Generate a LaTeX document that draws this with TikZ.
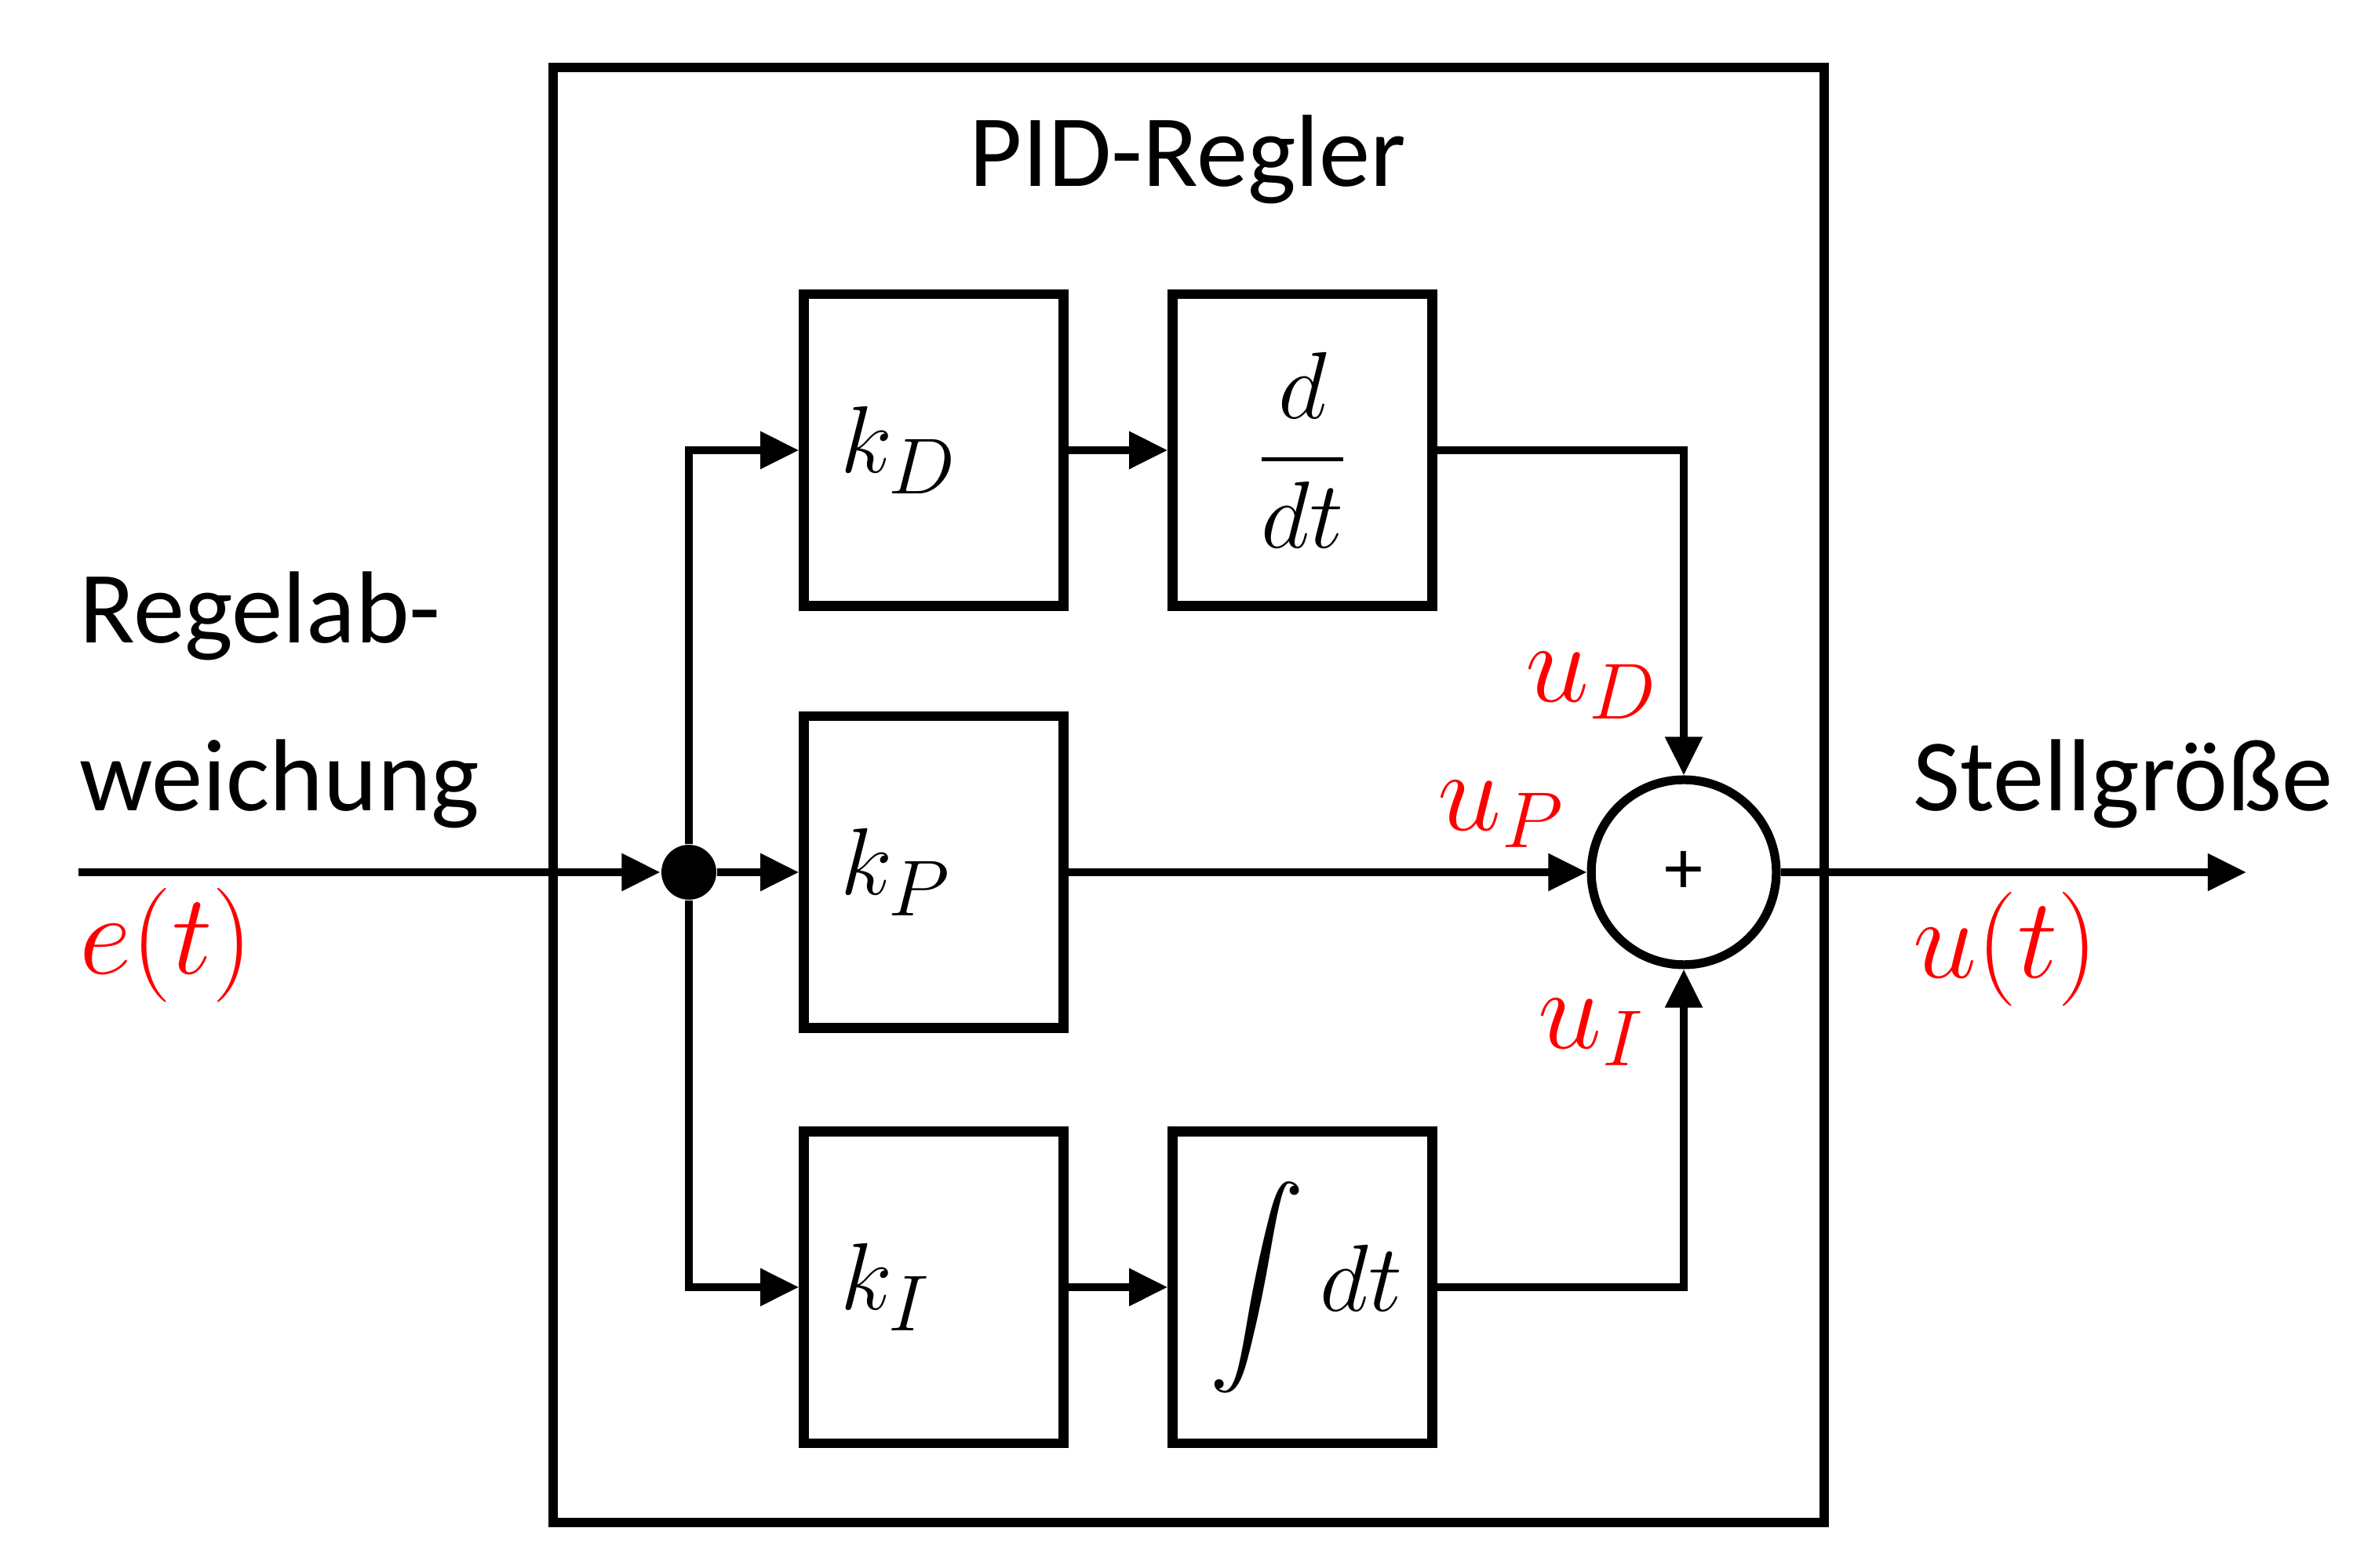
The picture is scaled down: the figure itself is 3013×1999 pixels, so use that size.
\documentclass[tikz,border=0pt]{standalone}
\usepackage{amsmath}
\usepackage{fontspec}
\setmainfont{Carlito}
\usetikzlibrary{arrows.meta,positioning}
\definecolor{pidred}{RGB}{255,0,0}

\tikzset{
  block/.style={draw, line width=1.8pt, minimum width=1.655cm, minimum height=1.99cm,
    text width=1.19cm, inner xsep=0.23cm, align=left, font=\fontsize{19}{22}\selectfont},
  sig/.style={line width=1.4pt, -{Triangle[length=7pt,width=6.5pt]}},
  lbl/.style={font=\fontsize{18.6}{30.5}\selectfont, inner sep=0pt},
  redlbl/.style={text=pidred, font=\fontsize{22}{25}\selectfont, inner sep=0pt},
}

\begin{document}
\begin{tikzpicture}[x=0.005cm, y=-0.005cm]
\useasboundingbox (0,0) rectangle (3013,1999);
% Controller frame
\draw[line width=1.8pt] (705,86) rectangle (2325,1941);
\node[lbl] (title) at (1514,203) {PID-Regler};
% Blocks
\node[block] (kd) at (1190,574) {$k_D$};
\node[block, align=center] (ddt) at (1660,574) {$\dfrac{d}{dt}$};
\node[block] (kp) at (1190,1112) {$k_P$};
\node[block] (ki) at (1190,1641) {$k_I$};
\node[block, align=center] (int) at (1660,1641) {$\displaystyle\int dt$};
% Junction and summing point
\node[circle, fill, minimum size=0.35cm, inner sep=0pt] (dot) at (878,1112) {};
\node[circle, draw, line width=1.6pt, minimum size=1.18cm, inner sep=0pt,
  font=\fontsize{14}{16}\selectfont] (sum) at (2146,1112) {+};
\coordinate (in) at (100,1112);
\coordinate (out) at (2863,1112);
% Signals
\draw[sig] (in) -- (dot);
\draw[sig] (dot) -- (kp);
\draw[sig] (dot) |- (kd);
\draw[sig] (dot) |- (ki);
\draw[sig] (kd) -- (ddt);
\draw[sig] (ki) -- (int);
\draw[sig] (ddt) -| (sum);
\draw[sig] (int) -| (sum);
\draw[sig] (kp) -- (sum);
\draw[sig] (sum) -- (out);
% Labels
\node[lbl, align=left, anchor=base west] (err) at (100,1034) {Regelab-\\weichung};
\node[redlbl, anchor=west] (e) at (100,1205) {$e(t)$};
\node[lbl, anchor=base west] (stell) at (2437,1034) {Stellgröße};
\node[redlbl, anchor=west] (u) at (2437,1210) {$u(t)$};
\node[redlbl] (ud) at (2029,874) {$u_D$};
\node[redlbl] (up) at (1914,1038) {$u_P$};
\node[redlbl] (ui) at (2029,1316) {$u_I$};
\end{tikzpicture}
\end{document}
